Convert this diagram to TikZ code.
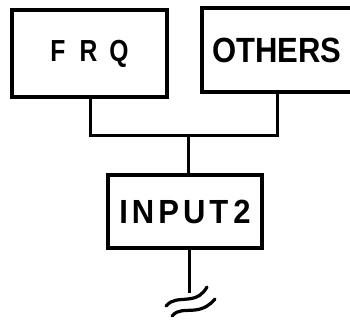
\documentclass[tikz,border=0pt]{standalone}
\usepackage{fontspec}
\setmainfont{Liberation Sans}
\newcommand{\nl}[1]{\scalebox{0.85}[1.05]{#1}}
\begin{document}
\begin{tikzpicture}[x=1pt,y=-1pt,
  box/.style={draw, line width=4pt, inner sep=0pt, font=\bfseries},
  wire/.style={line width=3pt},
  wave/.style={line width=3.2pt, line cap=round}]
\useasboundingbox (0,0) rectangle (350,321);
\node[box, minimum width=155pt, minimum height=87pt, font=\bfseries\fontsize{29}{29}\selectfont] (frq) at (89.5,53.5) {\nl{F}\hspace{14pt}\nl{R}\hspace{12pt}\nl{Q}\hspace{9pt}};
\node[box, minimum width=150pt, minimum height=84pt, font=\bfseries\fontsize{31}{31}\selectfont] (others) at (277,50) {\scalebox{1}[1.13]{OTHERS}};
\node[box, minimum width=154pt, minimum height=73pt, font=\bfseries\fontsize{31}{31}\selectfont] (input) at (185,211.5) {\scalebox{1}[1.08]{I\hspace{4pt}N\hspace{4pt}P\hspace{4pt}U\hspace{4pt}T\hspace{5pt}2}\hspace{6pt}};
\coordinate (jl) at (90,135);
\coordinate (jr) at (277,135);
\coordinate (jm) at (188,135);
\coordinate (gnd) at (189,293);
\draw[wire] (frq.south -| jl) -- (jl) -- (jr) -- (others.south -| jr);
\draw[wire] (jm) -- (input.north -| jm);
\draw[wire] (input.south -| gnd) -- (gnd);
\draw[wave] (166,306) .. controls (172,299) and (179,300) .. (188,299) .. controls (198,298) and (203,294) .. (207,287);
\draw[wave] (172,316) .. controls (178,309) and (185,311) .. (195,310) .. controls (204,309) and (210,305) .. (215,299);
\end{tikzpicture}
\end{document}
